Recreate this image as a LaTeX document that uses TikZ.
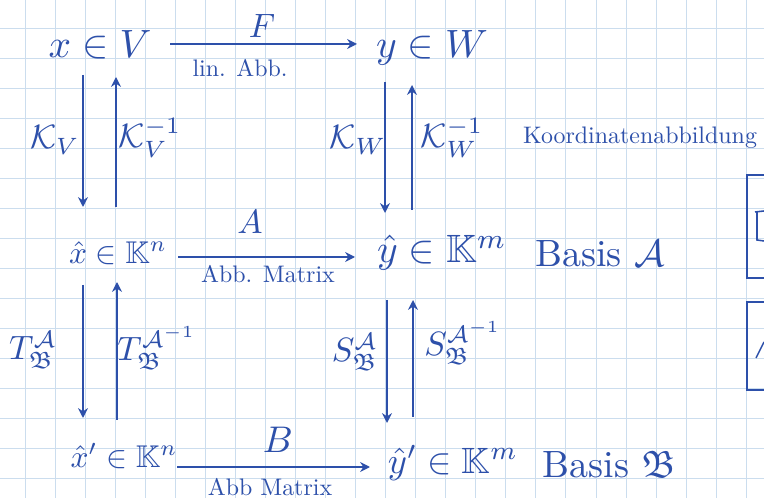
\documentclass[tikz,border=0pt]{standalone}
\usepackage{amssymb}
\usepackage{tikz}
\usetikzlibrary{arrows.meta, calc}
\definecolor{ink}{RGB}{45,80,170}
\definecolor{paperline}{RGB}{203,221,238}

\begin{document}
\begin{tikzpicture}[
    x=0.025cm, y=-0.025cm,
    obj/.style={ink, inner sep=1pt, scale=2.6},
    lbl/.style={ink, inner sep=1pt, scale=2.4},
    note/.style={ink, inner sep=1pt, scale=1.7},
    arrow/.style={ink, line width=1.1pt, -{Stealth[length=7pt,width=7pt]}},
    box/.style={ink, line width=1.1pt}
]
\useasboundingbox (0,0) rectangle (764,498);
\fill[white] (0,0) rectangle (764,498);
\foreach \i in {0,...,24}
    \draw[paperline, line width=0.6pt] (25+30.05*\i,0) -- (25+30.05*\i,498);
\foreach \j in {0,...,15}
    \draw[paperline, line width=0.6pt] (0,28+30*\j) -- (764,28+30*\j);

\node[obj, scale=1.08] (xV) at (100,45) {$x \in V$};
\node[obj, scale=1.08] (yW) at (432,48) {$y \in W$};
\node[obj, scale=0.86] (xh) at (118,253) {$\hat{x} \in \mathbb{K}^n$};
\node[obj, scale=1.08] (yh) at (442,253) {$\hat{y} \in \mathbb{K}^m$};
\node[obj, scale=0.86] (xp) at (124,456) {$\hat{x}' \in \mathbb{K}^n$};
\node[obj] (yp) at (453,463) {$\hat{y}' \in \mathbb{K}^m$};

\node[obj, scale=1.04] (basA) at (600,254) {Basis $\mathcal{A}$};
\node[obj, scale=1.04] (basB) at (609,465) {Basis $\mathfrak{B}$};
\node[note] (koord) at (640,138) {Koordinatenabbildung};

\node[lbl] (F) at (262,26) {$F$};
\node[note] (linAbb) at (240,68) {lin. Abb.};
\node[lbl] (A) at (250,222) {$A$};
\node[note] (matA) at (268,274) {Abb. Matrix};
\node[lbl, scale=1.1] (B) at (278,440) {$B$};
\node[note] (matB) at (270,487) {Abb Matrix};

\node[lbl] (kV) at (55,140) {$\mathcal{K}_V$};
\node[lbl] (kVi) at (150,138) {$\mathcal{K}_V^{-1}$};
\node[lbl] (kW) at (358,140) {$\mathcal{K}_W$};
\node[lbl] (kWi) at (452,138) {$\mathcal{K}_W^{-1}$};
\node[lbl] (TAB) at (33,350) {$T^{\mathcal{A}}_{\mathfrak{B}}$};
\node[lbl] (TABi) at (157,348) {$T^{\mathcal{A}^{-1}}_{\mathfrak{B}}$};
\node[lbl] (SAB) at (355,352) {$S^{\mathcal{A}}_{\mathfrak{B}}$};
\node[lbl] (SABi) at (463,343) {$S^{\mathcal{A}^{-1}}_{\mathfrak{B}}$};

\draw[arrow] ($(xV)+(70,-1)$) -- ($(yW)+(-75,-4)$);
\draw[arrow] ($(xh)+(60,4)$) -- ($(yh)+(-87,4)$);
\draw[arrow] ($(xp)+(53,11)$) -- ($(yp)+(-83,4)$);

\draw[arrow] ($(xV)+(-17,30)$) -- ($(xh)+(-35,-46)$);
\draw[arrow] ($(xh)+(-2,-46)$) -- ($(xV)+(16,32)$);
\draw[arrow] ($(yW)+(-47,34)$) -- ($(yh)+(-57,-40)$);
\draw[arrow] ($(yh)+(-30,-43)$) -- ($(yW)+(-20,37)$);

\draw[arrow] ($(xh)+(-35,32)$) -- ($(xp)+(-41,-38)$);
\draw[arrow] ($(xp)+(-7,-36)$) -- ($(xh)+(-1,29)$);
\draw[arrow] ($(yh)+(-55,47)$) -- ($(yp)+(-66,-40)$);
\draw[arrow] ($(yp)+(-40,-46)$) -- ($(yh)+(-29,47)$);

\begin{scope}
\clip (0,0) rectangle (764,498);
\draw[box] (770,175) -- (747,175) -- (747,278) -- (770,278);
\draw[box] (770,302) -- (747,302) -- (747,390) -- (770,390);
\draw[box] (755,212) -- (764,211) (757,212) -- (757,240) -- (764,241);
\draw[box] (756,358) -- (764,342);
\end{scope}
\end{tikzpicture}
\end{document}
